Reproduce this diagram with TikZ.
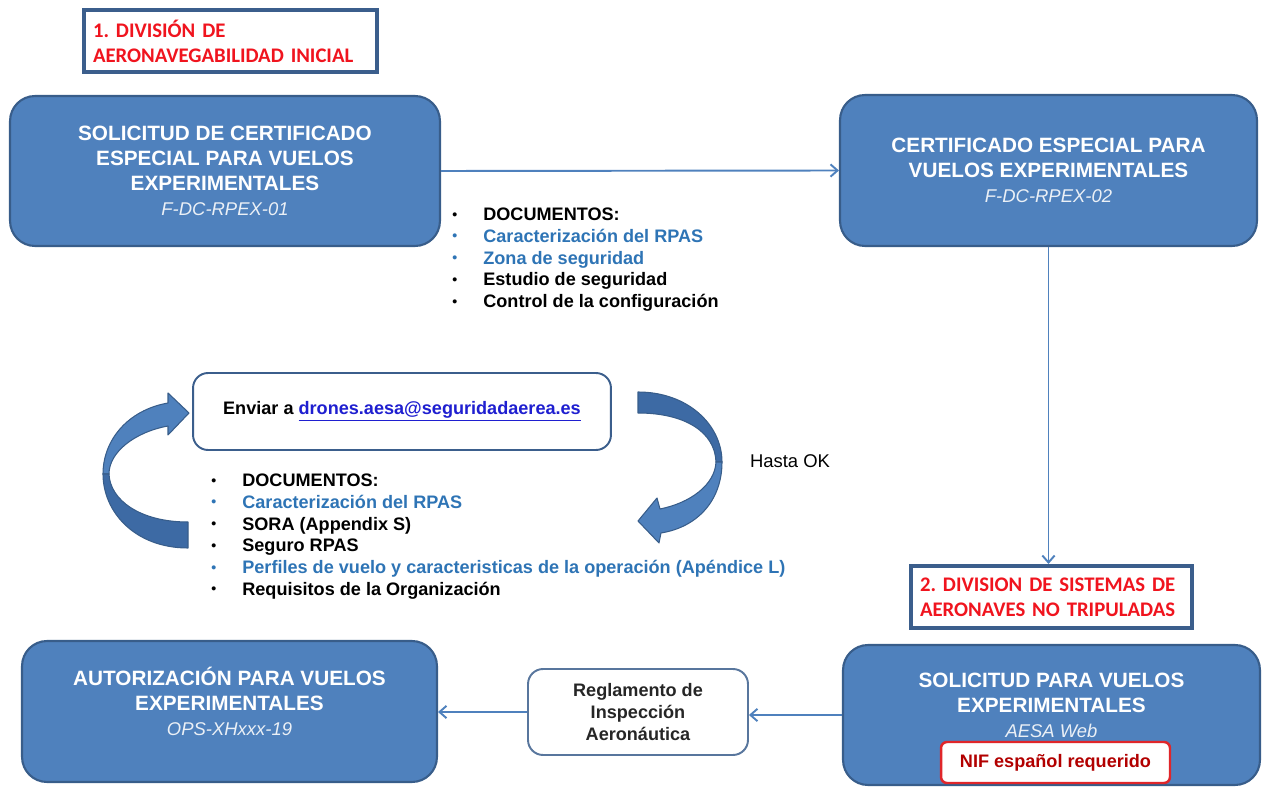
\documentclass[tikz,border=0pt]{standalone}
\usepackage{fontspec}
\setmainfont{Liberation Sans}
\newfontfamily\calib[WordSpace=0.75]{Carlito}
\usetikzlibrary{arrows.meta,positioning,calc}
\usepackage{xcolor}

\definecolor{boxblue}{HTML}{4F81BD}
\definecolor{boxedge}{HTML}{385D8A}
\definecolor{bendshade}{HTML}{3D6AA4}
\definecolor{framblue}{HTML}{3B5E8C}
\definecolor{docblue}{HTML}{2E74B5}
\definecolor{subwhite}{HTML}{EBF0F6}
\definecolor{linkblue}{HTML}{1F1FD0}
\definecolor{titlered}{HTML}{F0141E}
\definecolor{nifred}{HTML}{E0262A}

\newcommand{\docitem}[2]{{\color{#1}\makebox[0.62cm][l]{\raisebox{0.08em}{\fontsize{8}{8}\selectfont\textbullet}}#2}}
\newcommand{\subline}[1]{{\fontsize{10.5}{14.2}\selectfont\mdseries\itshape\color{subwhite}#1}}

\begin{document}
\begin{tikzpicture}[x=0.02cm, y=-0.02cm,
    bluebox/.style={draw=boxedge, line width=1.2pt, fill=boxblue, rounded corners=0.5cm, align=center, text=white, font=\fontsize{11.8}{14.2}\selectfont\bfseries},
    boxtext/.style={align=center, text=white, inner sep=0pt, font=\fontsize{11.8}{14.2}\selectfont\bfseries},
    titlebox/.style={draw=framblue, line width=2.3pt, fill=white, align=left, text=titlered, minimum height=1.24cm, inner xsep=0.18cm,
        font=\calib\fontsize{11.8}{14.2}\selectfont\bfseries\frenchspacing},
    whitebox/.style={draw=framblue, line width=1.1pt, fill=white, rounded corners=0.3cm, align=center, font=\fontsize{10.3}{12.4}\selectfont\bfseries},
    doclist/.style={anchor=north west, inner sep=0pt, align=left, font=\fontsize{10.3}{12.4}\selectfont\bfseries},
    conn/.style={draw=boxblue, line width=1.1pt, -{Straight Barb[length=4pt,width=7pt]}},
    bendlight/.style={fill=boxblue, draw=boxedge, line width=0.6pt, line join=round},
    benddark/.style={fill=bendshade, draw=boxedge, line width=0.6pt, line join=round}
]
    \useasboundingbox (0,0) rectangle (1262,787);

    % top row
    \node[titlebox, text width=5.5cm] (div1) at (230.5,41) {1. DIVISIÓN DE\\AERONAVEGABILIDAD INICIAL};
    \node[bluebox, minimum width=8.6cm, minimum height=3cm] (solA) at (225,171)
        {SOLICITUD DE CERTIFICADO\\ESPECIAL PARA VUELOS\\EXPERIMENTALES\\\subline{F-DC-RPEX-01}};
    \node[bluebox, minimum width=8.34cm, minimum height=3.02cm] (certB) at (1048.5,170.5)
        {CERTIFICADO ESPECIAL PARA\\VUELOS EXPERIMENTALES\\\subline{F-DC-RPEX-02}};

    \node[doclist] (docsA) at (452,207.5) {%
        \docitem{black}{DOCUMENTOS:}\\
        \docitem{docblue}{Caracterización del RPAS}\\
        \docitem{docblue}{Zona de seguridad}\\
        \docitem{black}{Estudio de seguridad}\\
        \docitem{black}{Control de la configuración}};

    % middle loop
    \node[whitebox, minimum width=8.36cm, minimum height=1.54cm] (enviar) at (402,411.5)
        {Enviar a {\color{linkblue}\underline{drones.aesa@seguridadaerea.es}}};
    \node[font=\fontsize{10.5}{12.4}\selectfont] (hasta) at (790,461) {Hasta OK};

    \node[doclist] (docsB) at (211,473.5) {%
        \docitem{black}{DOCUMENTOS:}\\
        \docitem{docblue}{Caracterización del RPAS}\\
        \docitem{black}{SORA (Appendix S)}\\
        \docitem{black}{Seguro RPAS}\\
        \docitem{docblue}{Perfiles de vuelo y caracteristicas de la operación (Apéndice L)}\\
        \docitem{black}{Requisitos de la Organización}};

    % right bent arrow, dark upper half and light lower half
    \filldraw[benddark] (638,392) .. controls (688,392) and (722,425) .. (722,462)
        -- (716,462) .. controls (715,432) and (685,413) .. (638,413) -- cycle;
    \filldraw[bendlight] (722,462) .. controls (722,500) and (698,527) .. (661,533)
        -- (659,543) -- (638,521) -- (657,498) -- (660,509)
        .. controls (690,503) and (715,485) .. (716,462) -- cycle;
    % left bent arrow, light upper half and dark lower half
    \filldraw[bendlight] (103,474) .. controls (103,440) and (128,410) .. (168,403)
        -- (168,393) -- (189,413) -- (168,435) -- (168,426)
        .. controls (135,432) and (109,452) .. (109,474) -- cycle;
    \filldraw[benddark] (188,548) .. controls (135,548) and (103,512) .. (103,474)
        -- (109,474) .. controls (110,500) and (140,522) .. (188,522) -- cycle;

    % bottom row
    \node[titlebox, text width=5.26cm] (div2) at (1051.5,597) {2. DIVISION DE SISTEMAS DE\\AERONAVES NO TRIPULADAS};
    \node[bluebox, minimum width=8.34cm, minimum height=2.8cm] (solC) at (1051.5,715) {};
    \node[boxtext] (solCtxt) at (1051.5,705) {SOLICITUD PARA VUELOS\\EXPERIMENTALES\\\subline{AESA Web}};
    \node[draw=nifred, line width=1.4pt, fill=white, rounded corners=0.12cm, minimum width=4.58cm, minimum height=0.82cm,
        text=red!70!black, font=\fontsize{10.3}{12.4}\selectfont\bfseries] (nif) at (1055.5,762.5) {NIF español requerido};

    \node[whitebox, draw=framblue!85, minimum width=4.4cm, minimum height=1.72cm, text=black!85] (regl) at (638,712)
        {Reglamento de\\Inspección\\Aeronáutica};

    \node[bluebox, minimum width=8.3cm, minimum height=2.82cm] (autD) at (229.5,711.5) {};
    \node[boxtext] (autDtxt) at (229.5,701) {AUTORIZACIÓN PARA VUELOS\\EXPERIMENTALES\\\subline{OPS-XHxxx-19}};

    \draw[conn] (solA.east) -- (certB.west);
    \draw[conn] (certB.south) -- (certB.south |- div2.north);
    \draw[conn] (solC.west) -- (solC.west -| regl.east);
    \draw[conn] (regl.west) -- (regl.west -| autD.east);
\end{tikzpicture}
\end{document}
